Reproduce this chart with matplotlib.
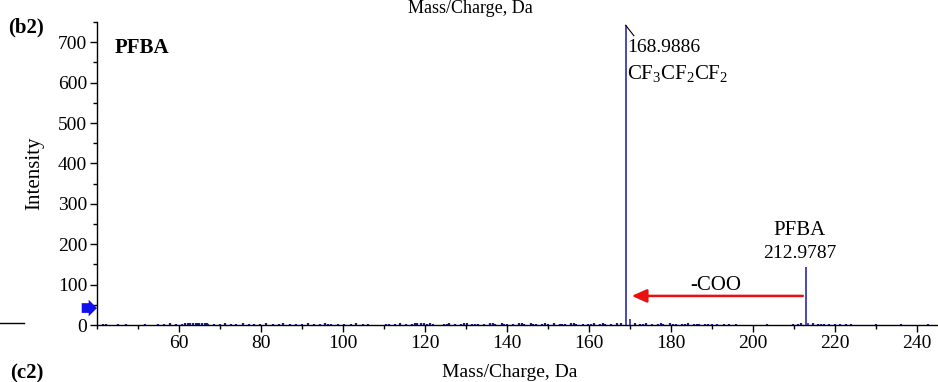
import matplotlib
matplotlib.use("Agg")
import matplotlib.pyplot as plt
from matplotlib.ticker import MultipleLocator
from matplotlib.lines import Line2D

plt.rcParams['font.family'] = ['Liberation Serif', 'DejaVu Serif']
plt.rcParams['mathtext.fontset'] = 'custom'
plt.rcParams['mathtext.rm'] = 'Liberation Serif'
plt.rcParams['mathtext.it'] = 'Liberation Serif:italic'
plt.rcParams['mathtext.bf'] = 'Liberation Serif:bold'

# Main peaks
peak_mz = [168.9886, 212.9787, 170.0, 213.5]
peak_int = [742, 143, 14, 6]

# Baseline noise peaks (hand-read)
noise_mz = [41.5, 42.3, 43.8, 45.2, 47.0, 49.5, 51.8, 53.1, 55.0, 56.4, 57.9, 59.2, 60.8, 62.1, 63.5, 64.2,
            65.0, 66.3, 67.1, 68.5, 69.9, 71.3, 72.8, 74.0, 75.6, 77.1, 78.4, 79.8, 81.2, 82.9, 84.3, 85.5,
            87.0, 88.6, 90.1, 91.4, 92.9, 94.3, 95.7, 97.0, 98.8, 100.3, 101.9, 103.2, 104.8, 106.1, 108.9,
            110.4, 111.2, 112.7, 114.0, 115.3, 116.9, 118.2, 119.0, 120.6, 122.1, 124.7, 126.0, 127.4, 128.9,
            130.3, 131.6, 133.0, 134.5, 135.9, 137.2, 138.8, 140.1, 141.5, 142.9, 144.3, 145.8, 147.0, 148.6,
            150.0, 151.4, 152.9, 154.1, 155.6, 157.0, 158.5, 159.9, 161.2, 162.8, 164.0, 165.5, 166.9, 167.8,
            171.2, 172.6, 174.0, 175.5, 176.9, 178.2, 179.8, 181.3, 182.7, 184.1, 185.6, 187.0, 188.4, 190.0,
            191.3, 192.9, 194.2, 195.8, 199.0, 203.5, 207.2, 209.8, 211.0, 211.9, 214.6, 215.9, 217.3, 218.7,
            220.0, 221.4, 222.8, 224.1, 227.0, 230.2, 233.5, 236.1, 239.4, 242.7, 245.5,
            61.4, 62.8, 64.7, 65.6, 66.8, 96.3, 117.5, 119.7, 121.3, 125.4, 129.6, 132.3, 136.6, 139.4,
            143.6, 146.4, 149.3, 153.5, 156.3, 160.6, 163.4, 173.3, 177.6, 180.5, 183.4, 186.3, 189.2, 216.6]
noise_int = [2, 3, 1, 2, 3, 1, 2, 1, 3, 2, 4, 2, 3, 5, 4, 6,
             5, 4, 3, 2, 3, 4, 2, 3, 4, 3, 2, 3, 4, 3, 2, 4,
             3, 2, 3, 4, 3, 2, 4, 3, 2, 3, 2, 4, 3, 2, 1,
             3, 2, 3, 4, 2, 3, 4, 5, 3, 2, 3, 4, 3, 2,
             4, 3, 2, 3, 4, 3, 4, 3, 2, 4, 3, 4, 3, 2,
             3, 4, 3, 2, 4, 3, 2, 3, 4, 3, 2, 3, 4, 5,
             4, 3, 4, 3, 2, 3, 4, 3, 2, 4, 3, 2, 3, 2,
             3, 2, 3, 2, 1, 2, 1, 2, 3, 4, 4, 3, 2, 3,
             2, 3, 2, 3, 1, 2, 1, 2, 1, 2, 1,
             5, 4, 6, 5, 4, 3, 4, 5, 4, 3, 4, 3, 4, 3,
             4, 3, 4, 3, 4, 3, 4, 3, 4, 3, 3, 3, 3, 3]

xticks = [60, 80, 100, 120, 140, 160, 180, 200, 220, 240]
yticks = [0, 100, 200, 300, 400, 500, 600, 700]

blue = '#3a3ab8'
fig = plt.figure(figsize=(9.38, 3.82), dpi=100)
ax = fig.add_axes([97/938, 1-325/382, 1-97/938 + 0.01, (325-22)/382])

ax.vlines(noise_mz, 0, noise_int, color='#1a1a90', lw=1.6)
ax.vlines(peak_mz, 0, peak_int, color=blue, lw=1.3)

ax.set_xlim(40, 247.5)
ax.set_ylim(0, 750)
ax.set_xticks(xticks)
ax.set_yticks(yticks)
ax.xaxis.set_minor_locator(MultipleLocator(10))
ax.yaxis.set_minor_locator(MultipleLocator(50))
ax.tick_params(which='major', direction='out', length=5, width=1, labelsize=14, pad=2)
ax.tick_params(which='minor', direction='out', length=3, width=1)
for s in ['top', 'right']:
    ax.spines[s].set_visible(False)
ax.spines['left'].set_linewidth(1)
ax.spines['bottom'].set_linewidth(1)
ax.set_ylabel('Intensity', fontsize=15)
ax.yaxis.set_label_coords(-(97 - 35) / (841 * 1.0) + 0.012, 0.5)

# Texts
fig.text(115/938, 1-48/382, 'PFBA', fontsize=15, fontweight='bold', ha='left', va='center')
fig.text(8/938, 1-27/382, '(b2)', fontsize=15, fontweight='bold', ha='left', va='center')

ax.text(169.3, 688, '168.9886', fontsize=14, ha='left', va='center')
ax.text(169.3, 623, r'CF$_3$CF$_2$CF$_2$', fontsize=15, ha='left', va='center')
ax.plot([169.0, 171.0], [742, 716], color='black', lw=0.8)

ax.text(211.4, 235, 'PFBA', fontsize=15, ha='center', va='center')
ax.text(211.4, 178, '212.9787', fontsize=14, ha='center', va='center')
ax.text(191.0, 99, '-COO', fontsize=15, ha='center', va='center')
ax.annotate('', xy=(169.8, 72), xytext=(212.9, 72),
            arrowprops=dict(arrowstyle='-|>,head_length=0.9,head_width=0.4', color='#e81010', lw=1.8))

# Blue marker arrow at left
ax.annotate('', xy=(0.0, 42), xycoords=('axes fraction', 'data'),
            xytext=(-11, 0), textcoords='offset points',
            arrowprops=dict(arrowstyle='simple,head_length=0.3,head_width=0.6,tail_width=0.35',
                            mutation_scale=20, color='#1010ee', lw=0, shrinkA=0, shrinkB=0),
            annotation_clip=False)

# Fragments from neighbouring panels
fig.text(470/938, 1.0, 'Mass/Charge, Da', fontsize=13, ha='center', va='top')
fig.text(510/938, 1-377/382, 'Mass/Charge, Da', fontsize=14, ha='center', va='baseline')
fig.text(10/938, 1-378/382, '(c2)', fontsize=15, fontweight='bold', ha='left', va='baseline')
fig.add_artist(Line2D([0, 24/938], [1-323/382, 1-323/382], color='black', lw=1))

fig.savefig('out.png', dpi=100)
